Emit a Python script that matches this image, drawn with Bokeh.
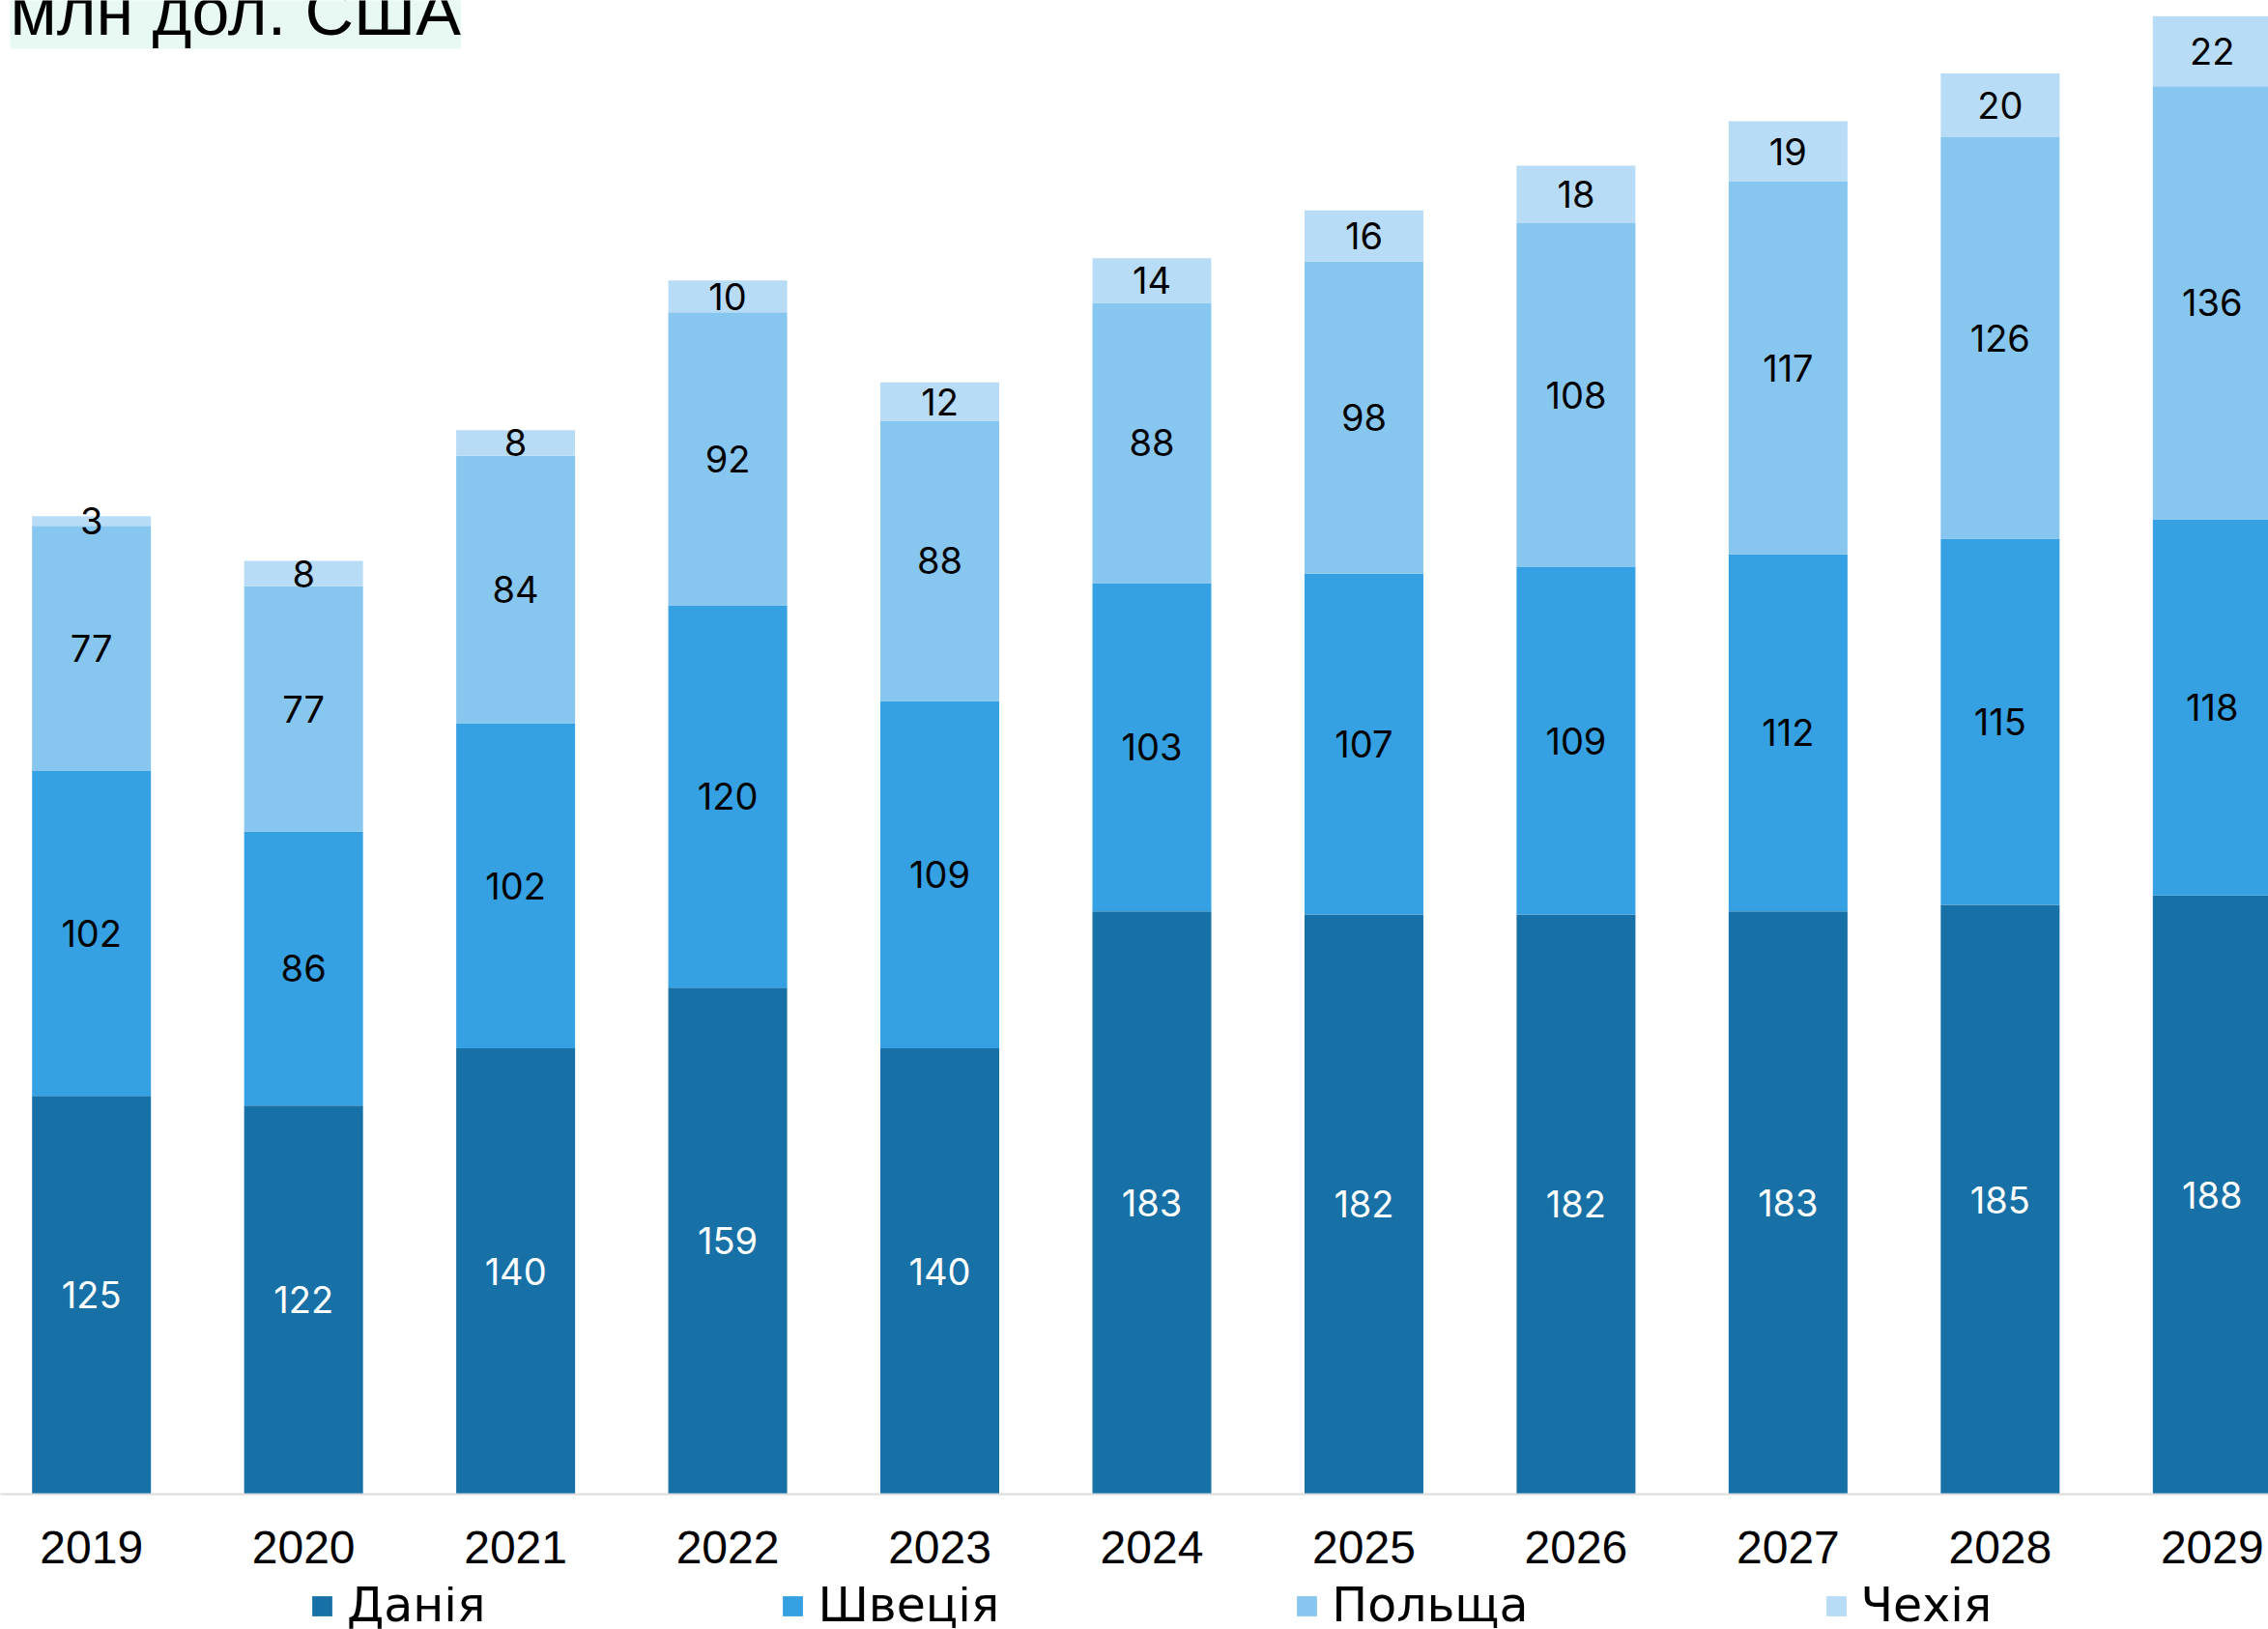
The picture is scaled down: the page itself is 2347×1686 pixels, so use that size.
import numpy as np
from bokeh.plotting import figure
from bokeh.layouts import column
from bokeh.models import Label, Legend, LegendItem, FixedTicker, ColumnDataSource
from bokeh.core.properties import value
from bokeh.embed import file_html
from bokeh.resources import INLINE

years = ["2019", "2020", "2021", "2022", "2023", "2024", "2025", "2026", "2027", "2028", "2029"]
denmark = [125, 122, 140, 159, 140, 183, 182, 182, 183, 185, 188]
sweden = [102, 86, 102, 120, 109, 103, 107, 109, 112, 115, 118]
poland = [77, 77, 84, 92, 88, 88, 98, 108, 117, 126, 136]
czechia = [3, 8, 8, 10, 12, 14, 16, 18, 19, 20, 22]

series_names = ["Данія", "Швеція", "Польща", "Чехія"]
series_keys = ["dk", "se", "pl", "cz"]
colors = ["#1770a6", "#35a0e2", "#87c6ef", "#b8dcf5"]
label_colors = ["white", "black", "black", "black"]
title_text = "млн дол. США"

W = 2347
H1 = 1642          # main chart
H2 = 1686 - H1     # legend strip
BOTTOM = 96

p = figure(width=W, height=H1, output_backend="svg", toolbar_location=None,
           title_location=None, y_axis_location=None,
           x_range=(-0.4292, 10.2652), y_range=(0, 468.9),
           min_border_left=0, min_border_right=0, min_border_top=0,
           min_border_bottom=BOTTOM)
p.outline_line_color = None
p.xgrid.visible = False
p.ygrid.visible = False
p.background_fill_color = "white"
p.border_fill_color = "white"

x = list(range(len(years)))
src = ColumnDataSource(dict(x=x, dk=denmark, se=sweden, pl=poland, cz=czechia))
renderers = p.vbar_stack(series_keys, x="x", width=0.5605, color=colors, line_color=None, source=src)

# segment labels
vals = [np.array(denmark), np.array(sweden), np.array(poland), np.array(czechia)]
base = np.zeros(len(years))
for v, c in zip(vals, label_colors):
    mid = base + v / 2.0
    p.text(x=x, y=list(mid), text=[str(int(t)) for t in v], text_align="center",
           text_baseline="middle", text_color=c, text_font=value("Inter"),
           text_font_size="38px")
    base = base + v

# axis
ax = p.xaxis[0]
ax.ticker = FixedTicker(ticks=x)
ax.major_label_overrides = {i: y for i, y in enumerate(years)}
ax.major_label_text_font = "Liberation Sans"
ax.major_label_text_font_size = "48px"
ax.major_label_text_color = "black"
ax.major_label_standoff = 38
ax.major_tick_out = 0
ax.major_tick_in = 0
ax.major_tick_line_color = None
ax.minor_tick_line_color = None
ax.axis_line_color = "#dcdcdc"
ax.axis_line_width = 2

# title
p.add_layout(Label(x=10, y=1535, x_units="screen", y_units="screen", text=title_text,
                   text_font="Liberation Sans", text_font_size="70px",
                   text_baseline="alphabetic", text_color="black",
                   background_fill_color="#e8f8f3"))

# legend strip (legend swatches come from off-range proxy bars of the same colours)
p2 = figure(width=W, height=H2, output_backend="svg", toolbar_location=None,
            title_location=None, x_axis_location=None, y_axis_location=None,
            x_range=(0, 1), y_range=(0, 1),
            min_border_left=0, min_border_right=0, min_border_top=0, min_border_bottom=0)
p2.outline_line_color = None
p2.xgrid.visible = False
p2.ygrid.visible = False
p2.background_fill_color = "white"
p2.border_fill_color = "white"
proxies = [p2.vbar(x=[-5], top=[-5], bottom=[-6], width=0.1, color=c, line_color=None)
           for c in colors]
items = [LegendItem(label=n, renderers=[r]) for n, r in zip(series_names, proxies)]
leg = Legend(items=items, orientation="horizontal", location=(320, -4),
             glyph_width=26, glyph_height=26, label_standoff=13, spacing=305,
             label_text_font="DejaVu Sans", label_text_font_size="49px",
             label_text_color="black", padding=0, margin=0,
             border_line_color=None, background_fill_alpha=0)
p2.add_layout(leg, "center")

layout = column(p, p2, spacing=0)
open("out.html", "w").write(file_html(layout, INLINE))
